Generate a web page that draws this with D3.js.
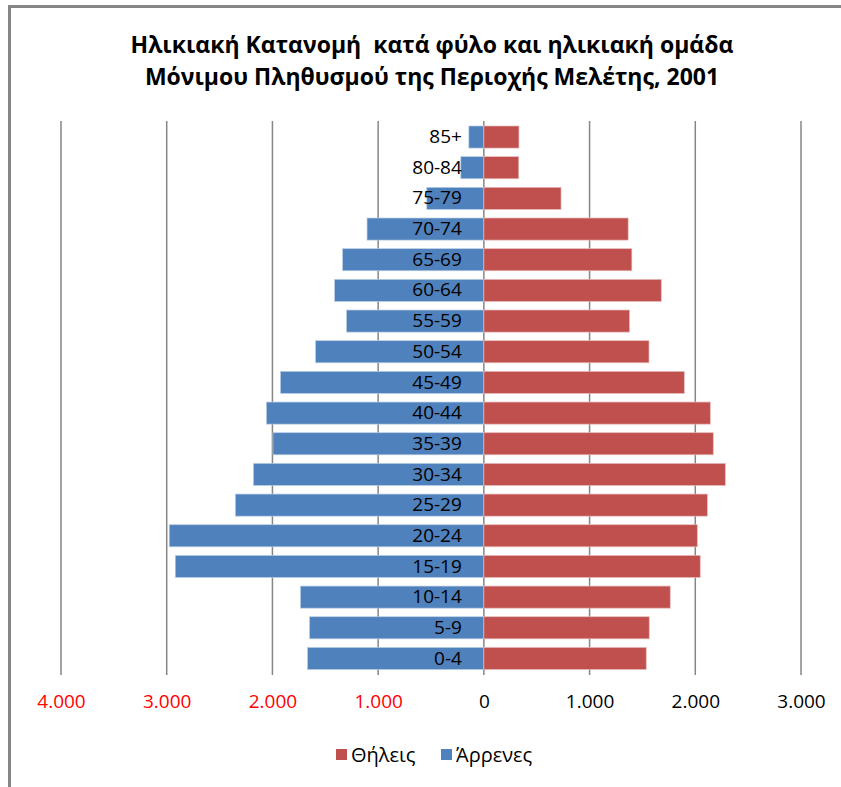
<!DOCTYPE html>
<html>
<head>
<meta charset="utf-8">
<script src="https://cdn.jsdelivr.net/npm/d3@7"></script>
<style>
  body { margin: 0; background: #fff; }
  text { font-family: "Open Sans", sans-serif; }
</style>
</head>
<body>
<div id="chart"></div>
<script>

// age groups, top to bottom
var ageGroups = ["85+", "80-84", "75-79", "70-74", "65-69", "60-64", "55-59", "50-54",
                 "45-49", "40-44", "35-39", "30-34", "25-29", "20-24", "15-19",
                 "10-14", "5-9", "0-4"];
var males   = [142, 218, 540, 1105, 1336, 1412, 1299, 1592, 1924, 2057, 1995, 2180, 2351, 2976, 2919, 1735, 1649, 1668];
var females = [332, 330, 730, 1365, 1400, 1678, 1378, 1562, 1896, 2142, 2170, 2284, 2114, 2019, 2047, 1763, 1564, 1536];
var tickValues = [-4000, -3000, -2000, -1000, 0, 1000, 2000, 3000];
var seriesNames = ["Θήλεις", "Άρρενες"];
var titleLines = ["Ηλικιακή Κατανομή  κατά φύλο και ηλικιακή ομάδα",
                  "Μόνιμου Πληθυσμού της Περιοχής Μελέτης, 2001"];

var width = 841, height = 787;
var colors = {male: "#4F81BD", female: "#C0504D"};

var svg = d3.select("#chart").append("svg")
    .attr("width", width)
    .attr("height", height);

// chart area frame (only top and left visible)
svg.append("rect")
    .attr("x", 9.5).attr("y", 6.5)
    .attr("width", 900).attr("height", 900)
    .attr("fill", "none")
    .attr("stroke", "#868686")
    .attr("stroke-width", 3);

// title
svg.append("g").selectAll("text")
    .data(titleLines)
  .enter().append("text")
    .attr("x", 432)
    .attr("y", function(d, i) { return 53 + i * 32; })
    .attr("text-anchor", "middle")
    .attr("font-size", 23)
    .attr("font-weight", "bold")
    .attr("fill", "#000")
    .style("white-space", "pre")
    .text(function(d) { return d; });

// scales
var x = d3.scaleLinear()
    .domain([-4000, 3000])
    .range([61, 801]);

var y = d3.scaleBand()
    .domain(ageGroups)
    .range([121.7, 673.8])
    .paddingInner(0.28)
    .paddingOuter(0.14);

// gridlines
svg.append("g").selectAll("line")
    .data(tickValues)
  .enter().append("line")
    .attr("x1", function(d) { return x(d); })
    .attr("x2", function(d) { return x(d); })
    .attr("y1", 121)
    .attr("y2", 675)
    .attr("stroke", "#868686")
    .attr("stroke-width", 1.5);

var rows = ageGroups.map(function(g, i) {
  return {key: g, male: males[i], female: females[i]};
});

// male bars (left)
svg.append("g").selectAll("rect")
    .data(rows)
  .enter().append("rect")
    .attr("x", function(d) { return x(-d.male); })
    .attr("y", function(d) { return y(d.key); })
    .attr("width", function(d) { return x(0) - x(-d.male); })
    .attr("height", y.bandwidth())
    .attr("fill", colors.male)
    .attr("stroke", "#b9cde5")
    .attr("stroke-width", 0.7);

// female bars (right)
svg.append("g").selectAll("rect")
    .data(rows)
  .enter().append("rect")
    .attr("x", x(0))
    .attr("y", function(d) { return y(d.key); })
    .attr("width", function(d) { return x(d.female) - x(0); })
    .attr("height", y.bandwidth())
    .attr("fill", colors.female)
    .attr("stroke", "#e6b9b8")
    .attr("stroke-width", 0.7);

// category labels
var yAxis = svg.append("g")
    .attr("transform", "translate(" + (x(0) - 22) + ",0)")
    .call(d3.axisLeft(y).tickSize(0).tickPadding(0));
yAxis.select(".domain").remove();
yAxis.selectAll("text")
    .attr("font-family", "Open Sans, sans-serif")
    .attr("font-size", 19)
    .attr("fill", "#000");

// value axis labels
var xAxis = svg.append("g")
    .attr("transform", "translate(0,694)")
    .call(d3.axisBottom(x).tickValues(tickValues).tickSize(0).tickPadding(0)
      .tickFormat(function(d) { return d3.format(",")(Math.abs(d)).replace(/,/g, "."); }));
xAxis.select(".domain").remove();
xAxis.selectAll("text")
    .attr("font-family", "Open Sans, sans-serif")
    .attr("font-size", 19)
    .attr("fill", function(d) { return d < 0 ? "#FF0000" : "#000"; });

// legend
var legend = svg.append("g");
var legendItems = [
  {name: seriesNames[0], color: colors.female, x: 336},
  {name: seriesNames[1], color: colors.male, x: 441}
];
legend.selectAll("rect")
    .data(legendItems)
  .enter().append("rect")
    .attr("x", function(d) { return d.x; })
    .attr("y", 749)
    .attr("width", 11).attr("height", 11)
    .attr("fill", function(d) { return d.color; });
legend.selectAll("text")
    .data(legendItems)
  .enter().append("text")
    .attr("x", function(d) { return d.x + 15; })
    .attr("y", 762)
    .attr("font-size", 20)
    .attr("fill", "#000")
    .text(function(d) { return d.name; });

</script>
</body>
</html>
